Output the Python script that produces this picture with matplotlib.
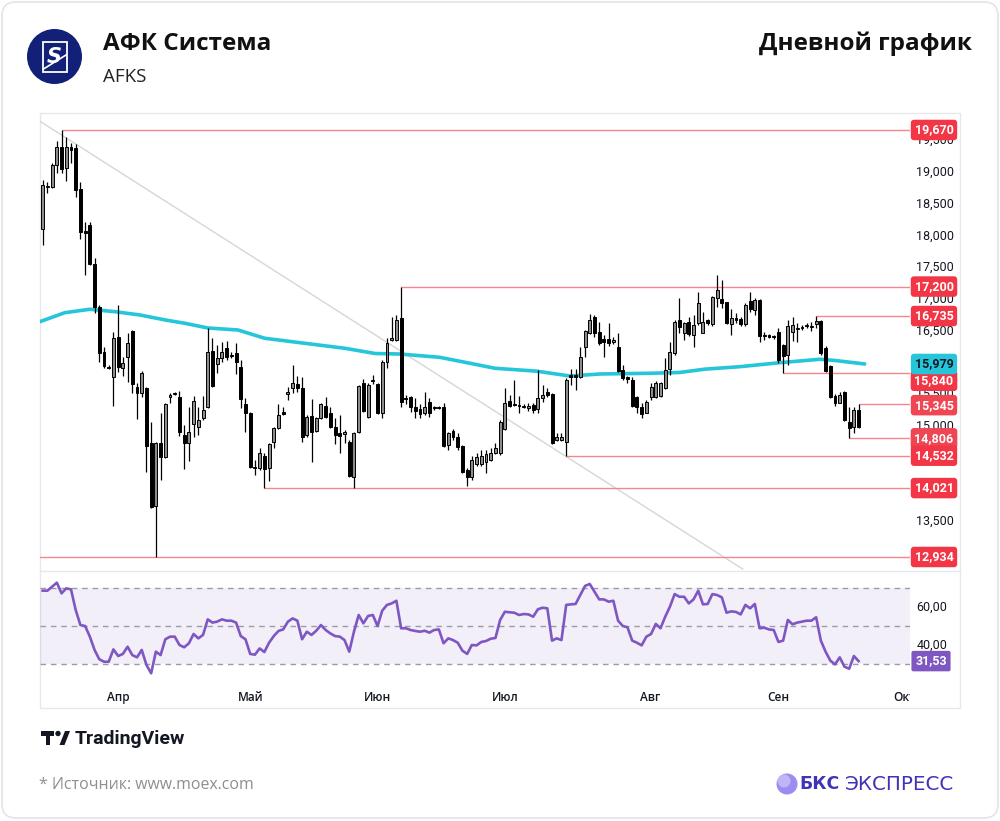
import matplotlib
matplotlib.use("Agg")
import matplotlib.pyplot as plt
import numpy as np
from matplotlib.patches import FancyBboxPatch, Circle, Rectangle, Polygon
from matplotlib.transforms import blended_transform_factory, offset_copy

# ---------------- data ----------------
opens = [18110, 18770, 18770, 19120, 19400, 19070, 19400, 19380, 18740, 18080,
         18170, 17560, 16880, 16170, 15930, 15770, 16400, 15920, 16090, 16500,
         15620, 15520, 15600, 14730, 13740, 14730, 14510, 15460, 15500, 15460,
         14860, 14730, 15030, 14990, 15130, 15300, 16180, 15980, 16070, 16230,
         16120, 16150, 15930, 15350, 15210, 14350, 14340, 14530, 14340, 14750,
         14970, 15220, 15500, 15600, 15660, 15600, 14860, 15160, 14920, 15130,
         15320, 15210, 14990, 14890, 14880, 14750, 14200, 14910, 15680, 15140,
         15710, 15660, 15210, 16010, 16360, 16360, 16700, 15440, 15460, 15300,
         15270, 15210, 15380, 15280, 15300, 15300, 14700, 14920, 14830, 14690,
         14310, 14200, 14400, 14400, 14430, 14460, 14580, 14580, 14950, 15400,
         15350, 15330, 15310, 15290, 15330, 15270, 15440, 15540, 15510, 14780,
         14780, 14750, 15800, 15800, 15770, 16250, 16470, 16720, 16480, 16370,
         16370, 16330, 16250, 15880, 15770, 15730, 15460, 15300, 15210, 15460,
         15460, 15470, 15600, 15900, 16150, 16670, 16470, 16640, 16440, 16620,
         16470, 16670, 16610, 17020, 17000, 16960, 16610, 16700, 16690, 16610,
         16970, 16830, 16990, 16440, 16430, 16420, 16480, 16280, 16120, 16480,
         16530, 16550, 16580, 16560, 16610, 16660, 16230, 15950, 15470, 15360,
         15540, 15060, 14990, 15250]
highs = [18880, 18850, 19150, 19500, 19670, 19560, 19460, 19450, 18850, 18220,
         18220, 17650, 16910, 16250, 15960, 16480, 16910, 16090, 16470, 16520,
         15680, 15870, 15610, 15060, 14750, 15210, 15360, 15520, 15530, 15550,
         15020, 15300, 15470, 15300, 15470, 16550, 16390, 16280, 16330, 16340,
         16170, 16310, 16040, 15440, 15220, 14460, 14650, 14580, 14730, 14990,
         15350, 15300, 15620, 15960, 15790, 15770, 15170, 15430, 15140, 15360,
         15460, 15300, 15130, 15170, 14940, 14780, 14910, 15650, 15740, 15680,
         15800, 15680, 16040, 16390, 16720, 16750, 17200, 15490, 15470, 15440,
         15350, 15540, 15440, 15320, 15320, 15360, 14910, 14950, 14890, 14700,
         14340, 14530, 14580, 14620, 14620, 14650, 14730, 15100, 15600, 15490,
         15730, 15470, 15340, 15360, 15360, 15880, 15650, 15600, 15520, 14890,
         14890, 15760, 15900, 15900, 16250, 16520, 16770, 16750, 16640, 16440,
         16620, 16400, 16470, 15960, 15790, 15770, 15470, 15360, 15410, 15680,
         15710, 15700, 16070, 16330, 16670, 17020, 16640, 16720, 16750, 17110,
         16800, 16690, 17050, 17380, 17300, 16960, 16850, 16780, 16720, 16940,
         17110, 17020, 17000, 16480, 16450, 16440, 16550, 16290, 16670, 16720,
         16620, 16600, 16620, 16640, 16735, 16670, 16260, 15960, 15500, 15540,
         15550, 15300, 15300, 15345]
lows = [17860, 18680, 18750, 18990, 18990, 18870, 19150, 18610, 17950, 17380,
        17540, 16780, 16010, 15920, 15900, 15320, 15850, 15790, 15700, 15520,
        15110, 15460, 14280, 13710, 12934, 14150, 14500, 15360, 15490, 14840,
        14320, 14450, 14830, 14860, 15100, 15280, 15620, 15840, 16010, 16040,
        16070, 15820, 15280, 14910, 14340, 14230, 14310, 14021, 14130, 14650,
        14950, 15170, 15410, 15520, 15540, 14750, 14830, 14430, 14910, 15110,
        15130, 14970, 14720, 14580, 14730, 14200, 14021, 14890, 15220, 15130,
        15660, 15190, 15130, 15920, 16340, 16340, 15300, 15350, 15220, 15130,
        15130, 15170, 15140, 15260, 15270, 14670, 14620, 14780, 14620, 14260,
        14050, 14150, 14370, 14370, 14260, 14450, 14560, 14550, 14940, 15300,
        15310, 15210, 15280, 15240, 15200, 15210, 15380, 15460, 14720, 14760,
        14760, 14532, 15650, 15570, 15760, 16090, 16450, 16400, 16280, 16090,
        16260, 16300, 15850, 15730, 15680, 15300, 15210, 15130, 15210, 15410,
        15440, 15460, 15580, 15800, 16120, 16470, 16360, 16420, 16250, 16590,
        16470, 16590, 16580, 16880, 16860, 16610, 16440, 16620, 16580, 16580,
        16800, 16750, 16330, 16360, 16390, 16370, 15990, 15840, 15960, 16340,
        16330, 16520, 16550, 16500, 16550, 16120, 15850, 15440, 15320, 15360,
        15080, 14806, 14890, 14970]
closes = [18800, 18790, 19120, 19400, 19060, 19400, 19350, 18720, 18060, 18040,
          17560, 16880, 16150, 15950, 15920, 16390, 15930, 15990, 16310, 15660,
          15520, 15840, 14690, 13720, 14730, 14510, 15350, 15490, 15510, 14910,
          14730, 14910, 15400, 15100, 15250, 16170, 15630, 16070, 16170, 16090,
          16100, 16010, 15430, 15210, 14350, 14340, 14580, 14320, 14720, 14970,
          15170, 15190, 15540, 15680, 15600, 14830, 15140, 14910, 15130, 15350,
          15140, 14990, 14860, 14840, 14900, 14210, 14890, 15630, 15240, 15650,
          15730, 15210, 16010, 16310, 16390, 16670, 15380, 15420, 15300, 15240,
          15190, 15300, 15210, 15300, 15290, 14690, 14890, 14830, 14670, 14280,
          14200, 14460, 14510, 14530, 14560, 14580, 14650, 15060, 15360, 15320,
          15330, 15320, 15300, 15320, 15250, 15440, 15490, 15490, 14730, 14830,
          14830, 15730, 15770, 15770, 16090, 16500, 16670, 16470, 16310, 16330,
          16310, 16360, 15870, 15760, 15740, 15320, 15300, 15190, 15380, 15620,
          15680, 15680, 15880, 16170, 16640, 16560, 16620, 16450, 16590, 16940,
          16640, 16620, 17030, 17150, 16940, 16620, 16700, 16670, 16610, 16910,
          16850, 16990, 16420, 16420, 16410, 16410, 16040, 16100, 16580, 16590,
          16550, 16560, 16590, 16580, 16660, 16150, 15870, 15460, 15360, 15490,
          15100, 14970, 15250, 14990]

# moving average read at sample bars
ma_idx = [-0.6, 4.7, 10, 15.3, 20.6, 26, 30.2, 35, 41.4, 47.1, 55.6, 64.1, 70.5,
          75.7, 84.2, 90.6, 95.9, 104.8, 111.8, 118.2, 128.7, 135.1, 140.4,
          147.8, 156.3, 164.8, 168, 174.3]
ma_vals = [16646, 16788, 16842, 16804, 16752, 16673, 16620, 16547, 16515, 16384,
           16305, 16226, 16144, 16136, 16084, 15990, 15911, 15865, 15789, 15821,
           15832, 15845, 15897, 15936, 15999, 16053, 16034, 15979]
ma_last = 15979

rsi = [68.6, 68.6, 70.7, 72.8, 67.2, 69.8, 69.3, 58.4, 50.5, 50.0,
       44.4, 37.4, 32.5, 31.2, 31.2, 37.7, 34.2, 35.3, 39.1, 34.7,
       33.5, 37.4, 29.5, 25.1, 36.5, 34.7, 43.0, 44.4, 44.4, 40.0,
       38.8, 40.9, 45.8, 43.5, 45.3, 53.5, 51.8, 52.3, 53.5, 52.8,
       52.8, 51.8, 44.7, 43.0, 35.3, 34.9, 38.2, 36.3, 41.2, 44.7,
       47.4, 48.2, 52.3, 54.0, 52.8, 43.0, 47.0, 45.3, 47.5, 50.5,
       47.9, 46.1, 44.7, 44.4, 42.6, 36.5, 47.0, 55.8, 51.4, 55.3,
       55.8, 50.0, 58.1, 61.1, 61.9, 63.3, 48.8, 48.8, 47.9, 47.4,
       47.0, 47.5, 46.5, 47.9, 48.2, 40.9, 43.5, 42.6, 41.2, 37.0,
       35.3, 40.0, 39.8, 41.6, 42.1, 43.3, 43.7, 53.2, 57.5, 57.2,
       57.0, 55.8, 56.3, 56.1, 54.9, 58.8, 59.6, 59.3, 42.3, 43.5,
       42.6, 61.1, 61.4, 61.6, 66.3, 71.1, 72.1, 68.1, 64.0, 64.0,
       62.8, 63.3, 52.8, 50.0, 49.3, 42.3, 41.2, 39.8, 44.4, 45.8,
       51.1, 48.8, 54.9, 60.2, 66.8, 65.4, 65.4, 61.9, 64.0, 68.6,
       61.4, 61.6, 66.8, 66.3, 65.1, 57.0, 57.7, 57.4, 56.1, 61.1,
       59.3, 61.6, 48.8, 49.1, 48.2, 47.9, 41.6, 42.3, 53.2, 50.9,
       51.8, 52.3, 52.8, 52.8, 54.6, 42.3, 36.5, 31.8, 29.8, 33.5,
       28.6, 27.5, 34.2, 31.53]

level_values = [19670, 17200, 16735, 15840, 15345, 14806, 14532, 14021, 12934]
level_start = [4, 76, 164, 157, 173, 171, 111, 47, -1]
level_label_shift = [0, 0, 0, -8, -1, 0, 0, 0, 0]   # px
level_colors = ['#F23645'] * 4 + ['#EF4654', '#EF4654'] + ['#F23645'] * 3

trend_x = [-1, 148.4]
trend_y = [19828, 12745]

price_ticks = [13000, 13500, 14000, 14500, 15000, 15500, 16000, 16500,
               17000, 17500, 18000, 18500, 19000, 19500]
rsi_ticks = [40, 60]
rsi_levels = [30, 50, 70]
month_labels = ['Апр', 'Май', 'Июн', 'Июл', 'Авг', 'Сен', 'Окт']
month_pos = [16, 44.2, 71, 98, 128.8, 155.9, 182.8]

# ---------------- figure ----------------
W, H = 1000, 821
fig = plt.figure(figsize=(W / 100, H / 100), dpi=100)
fig.patch.set_facecolor('white')

bg = fig.add_axes([0, 0, 1, 1])
bg.set_xlim(0, W)
bg.set_ylim(H, 0)
bg.axis('off')

# outer card
bg.add_patch(FancyBboxPatch((2, 2), W - 4, H - 5, boxstyle='round,pad=0,rounding_size=14',
                            fc='white', ec='#E4E4E4', lw=1.2))
# chart panel border
bg.add_patch(Rectangle((40, 113), 920, 595, fc='none', ec='#E6E8EE', lw=1))
bg.plot([40, 960], [571, 571], color='#E6E8EE', lw=1)

# header
bg.add_patch(Circle((54.5, 56.5), 27.5, fc='#122078', ec='none'))
bg.add_patch(Rectangle((43, 42.5), 23.5, 30, fc='none', ec='white', lw=1.3))
bg.plot([43.5, 66], [69, 55], color='white', lw=1.2)
bg.text(54.5, 57, 'S', color='white', fontsize=15, fontweight='bold', style='italic',
        ha='center', va='center', family='DejaVu Sans')
bg.text(103, 43.5, 'АФК Система', fontsize=17.5, fontweight='bold', color='#111111',
        ha='left', va='center', family='Open Sans')
bg.text(103, 77, 'AFKS', fontsize=13.5, color='#222222', ha='left', va='center',
        family='Open Sans')
bg.text(972, 43.5, 'Дневной график', fontsize=17.5, fontweight='bold', color='#111111',
        ha='right', va='center', family='Open Sans')

# TradingView logo
bg.add_patch(Polygon([(41, 731), (54, 731), (54, 735.8), (50, 735.8), (50, 745),
                      (45.5, 745), (45.5, 735.8), (41, 735.8)], closed=True, fc='#131722', ec='none'))
bg.add_patch(Circle((58, 733.5), 2.7, fc='#131722', ec='none'))
bg.add_patch(Polygon([(59.5, 745), (65, 731), (70, 731), (64.5, 745)], closed=True,
                     fc='#131722', ec='none'))
bg.text(74.5, 738.5, 'TradingView', fontsize=14, fontweight='bold', color='#131722',
        ha='left', va='center', family='Roboto')

# source + BKS logo
bg.text(39, 785, '* Источник: www.moex.com', fontsize=11.4, color='#8E8E8E',
        ha='left', va='center', family='Open Sans')
bg.add_patch(Circle((787, 784), 10.5, fc='#9A8CF0', ec='none'))
bg.add_patch(Circle((784, 781), 6.5, fc='#C9C0FA', ec='none', alpha=0.8))
bg.text(799, 784, 'БКС', fontsize=12.5, fontweight='bold', color='#4133B5',
        ha='left', va='center', family='DejaVu Sans')
bg.text(845, 784, 'ЭКСПРЕСС', fontsize=14.3, color='#4133B5',
        ha='left', va='center', family='DejaVu Sans')

# ---------------- price pane ----------------
ax = fig.add_axes([40 / W, 1 - 571 / H, 870 / W, (571 - 113) / H])
ax.set_facecolor('none')
for s in ax.spines.values():
    s.set_visible(False)
ax.set_xticks([])
ax.set_yticks([])
ax.set_xlim(-0.57, 183.9)
ax.set_ylim(12713, 19938)

o = np.array(opens, float)
hi = np.array(highs, float)
lo = np.array(lows, float)
c = np.array(closes, float)
x = np.arange(len(o))
up = c >= o
bottom = np.minimum(o, c)
height = np.maximum(np.abs(c - o), 14)

ax.plot(trend_x, trend_y, color='#D6D6D6', lw=1, zorder=1)
ax.plot(ma_idx, ma_vals, color='#26C6DA', lw=2.6, zorder=2, solid_capstyle='round')
for v, s in zip(level_values, level_start):
    ax.hlines(v, s, 183.9, color='#F6868C', lw=1, zorder=2)
ax.vlines(x, lo, hi, color='#000000', lw=0.9, zorder=3)
ax.bar(x[up], height[up], bottom=bottom[up], width=0.62, color='#8C8C8C',
       edgecolor='#000000', linewidth=0.7, zorder=4)
ax.bar(x[~up], height[~up], bottom=bottom[~up], width=0.62, color='#000000',
       edgecolor='#000000', linewidth=0.7, zorder=4)

tr = blended_transform_factory(fig.transFigure, ax.transData)
for v in price_ticks:
    ax.text(935 / W, v, f'{v:,}', transform=tr, fontsize=9, color='#131722',
            ha='center', va='center', family='Roboto', clip_on=False, zorder=5)

for v, sh, col in zip(level_values, level_label_shift, level_colors):
    t = offset_copy(tr, fig=fig, x=0, y=sh, units='dots')
    ax.text(934 / W, v, f'{v:,}', transform=t, fontsize=9, fontweight='bold', color='white',
            ha='center', va='center', family='Roboto', clip_on=False, zorder=11,
            bbox=dict(boxstyle='round,pad=0.3,rounding_size=0.25', fc=col, ec='none'))
ax.text(934 / W, ma_last, f'{ma_last:,}', transform=tr, fontsize=9, fontweight='bold',
        color='#131722', ha='center', va='center', family='Roboto', clip_on=False, zorder=11,
        bbox=dict(boxstyle='round,pad=0.3,rounding_size=0.25', fc='#26C6DA', ec='none'))

# ---------------- RSI pane ----------------
ax2 = fig.add_axes([40 / W, 1 - 683 / H, 870 / W, (683 - 571) / H])
ax2.set_facecolor('none')
for s in ax2.spines.values():
    s.set_visible(False)
ax2.set_xticks([])
ax2.set_yticks([])
ax2.set_xlim(-0.57, 183.9)
ax2.set_ylim(20, 78.95)
ax2.axhspan(rsi_levels[0], rsi_levels[-1], color='#7E57C2', alpha=0.09, lw=0, zorder=1)
for lv in rsi_levels:
    ax2.axhline(lv, color='#9A9DA6', lw=1, ls=(0, (4, 3.5)), zorder=2)
ax2.plot(np.arange(len(rsi)), rsi, color='#7E57C2', lw=1.9, zorder=3)

tr2 = blended_transform_factory(fig.transFigure, ax2.transData)
for v in rsi_ticks:
    ax2.text(932 / W, v, f'{v},00', transform=tr2, fontsize=9, color='#131722',
             ha='center', va='center', family='Roboto', clip_on=False)
ax2.text(931 / W, rsi[-1], f'{rsi[-1]:.2f}'.replace('.', ','), transform=tr2, fontsize=9,
         fontweight='bold', color='white', ha='center', va='center', family='Roboto',
         clip_on=False, zorder=11,
         bbox=dict(boxstyle='round,pad=0.3,rounding_size=0.15', fc='#7E57C2', ec='none'))

# ---------------- time axis ----------------
axt = fig.add_axes([40 / W, 1 - 708 / H, 870 / W, 25 / H])
axt.set_xlim(-0.57, 183.9)
axt.set_ylim(0, 1)
axt.axis('off')
for lab, p in zip(month_labels, month_pos):
    axt.text(p, 0.44, lab, fontsize=8.5, fontweight='semibold', color='#131722',
             ha='center', va='center', family='Open Sans', clip_on=True)

fig.savefig('out.png', dpi=100, facecolor='white')
